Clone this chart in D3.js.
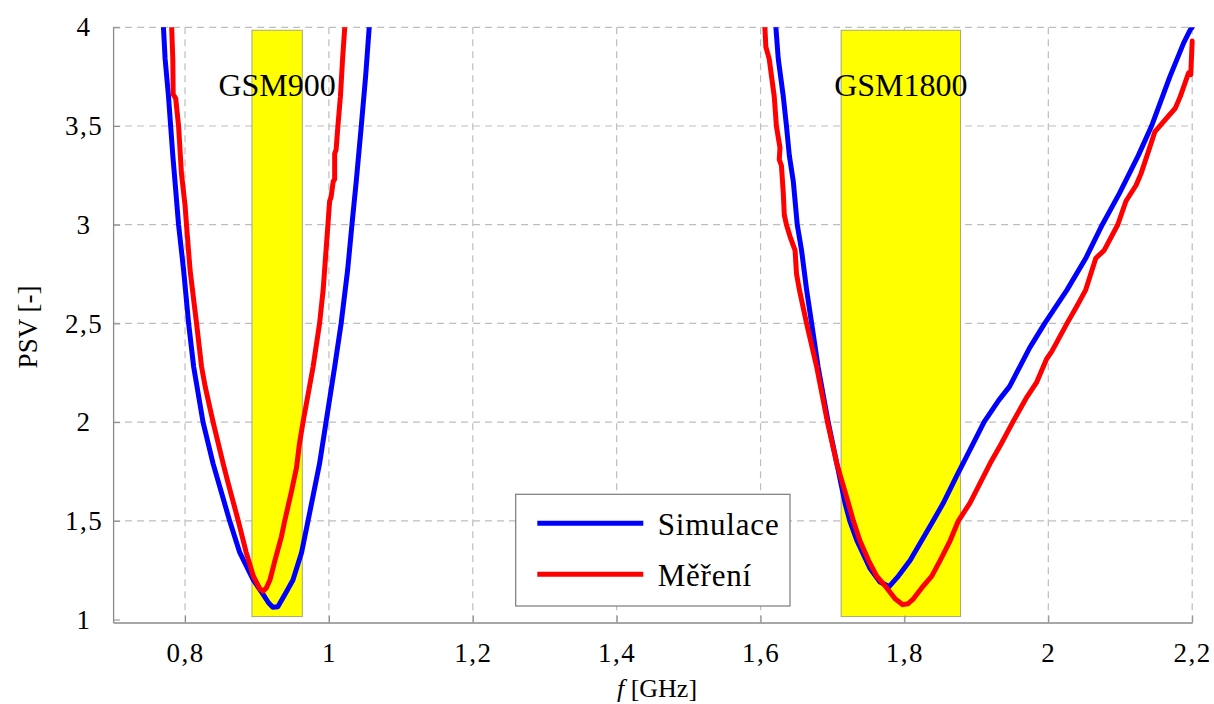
<!DOCTYPE html>
<html>
<head>
<meta charset="utf-8">
<script src="https://cdn.jsdelivr.net/npm/d3@7"></script>
<style>
  html, body { margin: 0; padding: 0; background: #fff; }
  svg { display: block; }
  svg text { font-family: "Liberation Serif", "DejaVu Serif", serif; }
</style>
</head>
<body>
<svg id="chart" width="1214" height="704"></svg>
<script>
// Simulated VSWR (PSV), low band
const simLowF = [0.768, 0.770, 0.7723, 0.777, 0.780, 0.783, 0.786, 0.791, 0.798, 0.805, 0.812, 0.825, 0.839, 0.862, 0.876, 0.895, 0.909, 0.916, 0.922, 0.929, 0.9386, 0.950, 0.962, 0.971, 0.987, 0.996, 1.008, 1.017, 1.026, 1.032, 1.038, 1.045, 1.051, 1.056, 1.058];
const simLowV = [4.1, 4.0, 3.84, 3.65, 3.5, 3.35, 3.22, 3.0, 2.77, 2.5, 2.28, 2.0, 1.79, 1.5, 1.34, 1.20, 1.125, 1.085, 1.062, 1.065, 1.125, 1.20, 1.34, 1.5, 1.79, 2.0, 2.28, 2.5, 2.77, 3.0, 3.22, 3.5, 3.75, 4.0, 4.1];
// Simulated VSWR, high band
const simHighF = [1.620, 1.6213, 1.6246, 1.6316, 1.636, 1.640, 1.6455, 1.651, 1.657, 1.664, 1.671, 1.680, 1.694, 1.706, 1.7174, 1.724, 1.734, 1.752, 1.766, 1.7787, 1.7916, 1.808, 1.824, 1.840, 1.854, 1.873, 1.887, 1.901, 1.9106, 1.931, 1.946, 1.974, 1.995, 2.026, 2.052, 2.075, 2.099, 2.125, 2.1435, 2.169, 2.188, 2.1976, 2.2];
const simHighV = [4.1, 4.0, 3.84, 3.65, 3.5, 3.35, 3.22, 3.0, 2.87, 2.67, 2.5, 2.28, 2.0, 1.79, 1.59, 1.5, 1.40, 1.26, 1.19, 1.167, 1.22, 1.30, 1.40, 1.5, 1.59, 1.73, 1.83, 1.93, 2.0, 2.11, 2.18, 2.376, 2.5, 2.67, 2.83, 3.0, 3.16, 3.35, 3.5, 3.75, 3.92, 3.99, 4.0];
// Measured VSWR, low band
const measLowF = [0.779, 0.7814, 0.783, 0.7835, 0.787, 0.791, 0.795, 0.799, 0.800, 0.802, 0.807, 0.816, 0.823, 0.828, 0.839, 0.853, 0.860, 0.874, 0.885, 0.895, 0.904, 0.9085, 0.913, 0.918, 0.925, 0.934, 0.9386, 0.948, 0.955, 0.959, 0.964, 0.973, 0.978, 0.987, 0.992, 0.996, 0.9986, 1.001, 1.003, 1.006, 1.008, 1.008, 1.010, 1.0125, 1.016, 1.019, 1.022, 1.023];
const measLowV = [4.1, 4.0, 3.84, 3.66, 3.64, 3.5, 3.26, 3.13, 3.10, 3.0, 2.77, 2.5, 2.28, 2.18, 2.0, 1.79, 1.69, 1.5, 1.34, 1.22, 1.155, 1.144, 1.16, 1.20, 1.30, 1.42, 1.5, 1.65, 1.77, 1.89, 2.0, 2.18, 2.28, 2.5, 2.67, 2.87, 3.0, 3.12, 3.14, 3.22, 3.23, 3.36, 3.38, 3.5, 3.65, 3.84, 4.0, 4.1];
// Measured VSWR, high band
const measHighF = [1.605, 1.606, 1.6074, 1.612, 1.619, 1.622, 1.627, 1.626, 1.629, 1.6316, 1.633, 1.636, 1.641, 1.648, 1.650, 1.654, 1.664, 1.678, 1.693, 1.706, 1.722, 1.729, 1.738, 1.750, 1.7615, 1.7754, 1.787, 1.7977, 1.805, 1.8125, 1.824, 1.838, 1.8497, 1.8636, 1.875, 1.891, 1.905, 1.919, 1.934, 1.9506, 1.969, 1.9835, 1.9976, 2.0047, 2.026, 2.040, 2.052, 2.066, 2.0776, 2.0965, 2.108, 2.122, 2.129, 2.139, 2.148, 2.162, 2.1765, 2.1835, 2.195, 2.198, 2.2];
const measHighV = [4.1, 4.0, 3.90, 3.84, 3.65, 3.5, 3.39, 3.33, 3.30, 3.16, 3.05, 3.0, 2.94, 2.87, 2.75, 2.67, 2.5, 2.28, 2.0, 1.79, 1.59, 1.5, 1.40, 1.30, 1.22, 1.16, 1.105, 1.0755, 1.08, 1.105, 1.16, 1.22, 1.30, 1.40, 1.5, 1.59, 1.69, 1.79, 1.887, 2.0, 2.12, 2.20, 2.32, 2.357, 2.5, 2.59, 2.67, 2.83, 2.87, 3.0, 3.12, 3.20, 3.26, 3.37, 3.47, 3.53, 3.59, 3.65, 3.77, 3.76, 3.93];

// GSM frequency bands
const bandNames = ["GSM900", "GSM1800"];
const bandStart = [0.893, 1.712];
const bandEnd = [0.963, 1.878];
const bandPsvLow = 1.015;
const bandPsvHigh = 3.985;
const bandLabelPsv = 3.65;

// Axis ticks
const xTicks = [0.8, 1.0, 1.2, 1.4, 1.6, 1.8, 2.0, 2.2];
const xTickLabels = ["0,8", "1", "1,2", "1,4", "1,6", "1,8", "2", "2,2"];
const yTicks = [1, 1.5, 2, 2.5, 3, 3.5, 4];
const yTickLabels = ["1", "1,5", "2", "2,5", "3", "3,5", "4"];

const seriesNames = ["Simulace", "Měření"];
const seriesColors = ["#0000ff", "#ff0000"];

const serif = "'Liberation Serif', 'DejaVu Serif', serif";
const svg = d3.select("#chart");
const plotLeft = 113.1, plotRight = 1192.2, plotTop = 27.3, plotBottom = 622.5;

const x = d3.scaleLinear().domain([0.7, 2.2]).range([plotLeft, plotRight]);
const y = d3.scaleLinear().domain([0.985, 4]).range([plotBottom, plotTop]);

// dashed grid
const grid = svg.append("g").attr("stroke", "#bdbdbd").attr("stroke-width", 1.2).attr("stroke-dasharray", "7,5");
grid.selectAll("line.h").data(yTicks.filter(v => v > 1)).join("line").attr("class", "h")
  .attr("x1", plotLeft).attr("x2", plotRight)
  .attr("y1", d => y(d)).attr("y2", d => y(d));
grid.selectAll("line.v").data(xTicks).join("line").attr("class", "v")
  .attr("x1", d => x(d)).attr("x2", d => x(d))
  .attr("y1", plotTop).attr("y2", plotBottom);

// frequency bands
const bands = bandNames.map((n, i) => ({ name: n, f0: bandStart[i], f1: bandEnd[i] }));
svg.append("g").selectAll("rect").data(bands).join("rect")
  .attr("x", d => x(d.f0)).attr("width", d => x(d.f1) - x(d.f0))
  .attr("y", y(bandPsvHigh)).attr("height", y(bandPsvLow) - y(bandPsvHigh))
  .attr("fill", "#ffff00").attr("stroke", "#a8a87a").attr("stroke-width", 1);

svg.append("g").selectAll("text").data(bands).join("text")
  .attr("x", d => x((d.f0 + d.f1) / 2)).attr("y", y(bandLabelPsv))
  .attr("text-anchor", "middle").attr("font-family", serif).attr("font-size", 32).attr("fill", "#000")
  .text(d => d.name);

// axes
const xAxis = d3.axisBottom(x).tickValues(xTicks).tickFormat((d, i) => xTickLabels[i])
  .tickSize(-7).tickSizeOuter(0).tickPadding(20);
const gx = svg.append("g").attr("transform", `translate(0,${plotBottom})`).call(xAxis)
  .attr("font-family", serif);
gx.select(".domain").attr("stroke", "#8a8a8a").attr("stroke-width", 1.3);
gx.selectAll(".tick line").attr("stroke", "#8a8a8a");
gx.selectAll(".tick text").attr("font-size", 27).attr("fill", "#000").attr("letter-spacing", 1.5);

const yAxis = d3.axisLeft(y).tickValues(yTicks).tickFormat((d, i) => yTickLabels[i])
  .tickSize(-7).tickSizeOuter(0);
const gy = svg.append("g").attr("transform", `translate(${plotLeft},0)`).call(yAxis)
  .attr("font-family", serif);
gy.select(".domain").attr("stroke", "#8a8a8a").attr("stroke-width", 1.3);
gy.selectAll(".tick line").attr("stroke", "#8a8a8a");
gy.selectAll(".tick text").attr("font-size", 27).attr("fill", "#000")
  .attr("text-anchor", "middle").attr("x", 84 - plotLeft).attr("letter-spacing", 1.5);

// curves
svg.append("defs").append("clipPath").attr("id", "plotClip")
  .append("rect").attr("x", plotLeft - 3).attr("y", plotTop).attr("width", plotRight - plotLeft + 6).attr("height", plotBottom - plotTop);

const line = d3.line().x(d => x(d[0])).y(d => y(d[1]));
const zip = (f, v) => f.map((fi, i) => [fi, v[i]]);
const curves = [
  { c: 0, pts: zip(simLowF, simLowV) },
  { c: 0, pts: zip(simHighF, simHighV) },
  { c: 1, pts: zip(measLowF, measLowV) },
  { c: 1, pts: zip(measHighF, measHighV) }
];
svg.append("g").attr("clip-path", "url(#plotClip)").selectAll("path").data(curves).join("path")
  .attr("d", d => line(d.pts))
  .attr("fill", "none").attr("stroke", d => seriesColors[d.c])
  .attr("stroke-width", 5).attr("stroke-linejoin", "round").attr("stroke-linecap", "round");

// legend
const lg = svg.append("g");
lg.append("rect").attr("x", 515.7).attr("y", 494.3).attr("width", 274.3).attr("height", 111.7)
  .attr("fill", "#fff").attr("stroke", "#7a7a7a").attr("stroke-width", 1.2);
seriesNames.forEach((n, i) => {
  const ly = 523.3 + i * 51;
  lg.append("line").attr("x1", 537.3).attr("x2", 643.3).attr("y1", ly).attr("y2", ly)
    .attr("stroke", seriesColors[i]).attr("stroke-width", 5);
  lg.append("text").attr("x", 657.7).attr("y", ly + 11.5).attr("font-family", serif).attr("font-size", 31)
    .attr("letter-spacing", 0.8).attr("fill", "#000").text(n);
});

// axis titles
const xt = svg.append("text").attr("x", 657).attr("y", 697).attr("text-anchor", "middle")
  .attr("font-family", serif).attr("font-size", 26).attr("fill", "#000");
xt.append("tspan").attr("font-style", "italic").text("f");
xt.append("tspan").text(" [GHz]");

svg.append("text").attr("transform", "translate(37,327) rotate(-90)")
  .attr("text-anchor", "middle").attr("font-family", serif).attr("font-size", 27).attr("fill", "#000").text("PSV [-]");
</script>
</body>
</html>
